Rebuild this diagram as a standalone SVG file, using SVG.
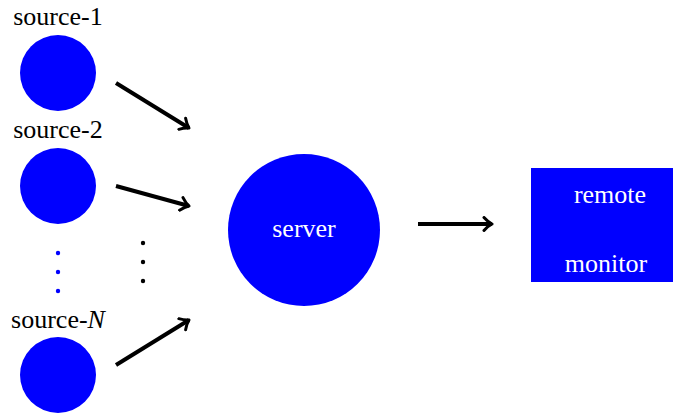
<svg xmlns="http://www.w3.org/2000/svg" width="673" height="416" viewBox="0 0 673 416">
  <defs>
    <marker id="head" viewBox="0 0 12 16" refX="10" refY="8" markerWidth="12" markerHeight="16" markerUnits="userSpaceOnUse" orient="auto">
      <path d="M2,1.5 Q6,6 10,8 Q6,10 2,14.5" fill="none" stroke="#000" stroke-width="3" stroke-linecap="round" stroke-linejoin="round"/>
    </marker>
  </defs>
  <style>
    .node { fill: #0000ff; }
    text { font-family: 'Liberation Serif', 'DejaVu Serif', serif; font-size: 26px; }
    .lbl { fill: #000; }
    .wlbl { fill: #fff; }
    .edge { stroke: #000; stroke-width: 4; fill: none; marker-end: url(#head); }
  </style>
  <rect width="673" height="416" fill="#fff"/>

  <g id="source-1">
    <circle class="node" cx="58" cy="73" r="38"/>
    <text class="lbl" x="58" y="25" text-anchor="middle">source-1</text>
  </g>
  <g id="source-2">
    <circle class="node" cx="58" cy="186" r="38"/>
    <text class="lbl" x="58" y="138" text-anchor="middle">source-2</text>
  </g>
  <g id="source-N">
    <circle class="node" cx="58" cy="375" r="38"/>
    <text class="lbl" x="58" y="328" text-anchor="middle">source-<tspan font-style="italic">N</tspan></text>
  </g>
  <g id="source-dots">
    <circle cx="58" cy="253" r="2.2" fill="#0000ff"/>
    <circle cx="58" cy="272" r="2.2" fill="#0000ff"/>
    <circle cx="58" cy="291" r="2.2" fill="#0000ff"/>
  </g>
  <g id="edge-dots">
    <circle cx="143" cy="243" r="2.2" fill="#000"/>
    <circle cx="143" cy="262" r="2.2" fill="#000"/>
    <circle cx="143" cy="281" r="2.2" fill="#000"/>
  </g>
  <g id="server">
    <circle class="node" cx="304" cy="230" r="76"/>
    <text class="wlbl" x="304" y="237" text-anchor="middle">server</text>
  </g>
  <g id="remote-monitor">
    <rect class="node" x="531" y="168" width="142" height="114"/>
    <text class="wlbl" x="610" y="203" text-anchor="middle">remote</text>
    <text class="wlbl" x="606" y="272" text-anchor="middle">monitor</text>
  </g>

  <g id="connectors">
    <line class="edge" x1="116" y1="83" x2="189" y2="128"/>
    <line class="edge" x1="116" y1="186" x2="189" y2="206"/>
    <line class="edge" x1="116" y1="365" x2="189" y2="320"/>
    <line class="edge" x1="418" y1="224" x2="492" y2="224"/>
  </g>
</svg>
